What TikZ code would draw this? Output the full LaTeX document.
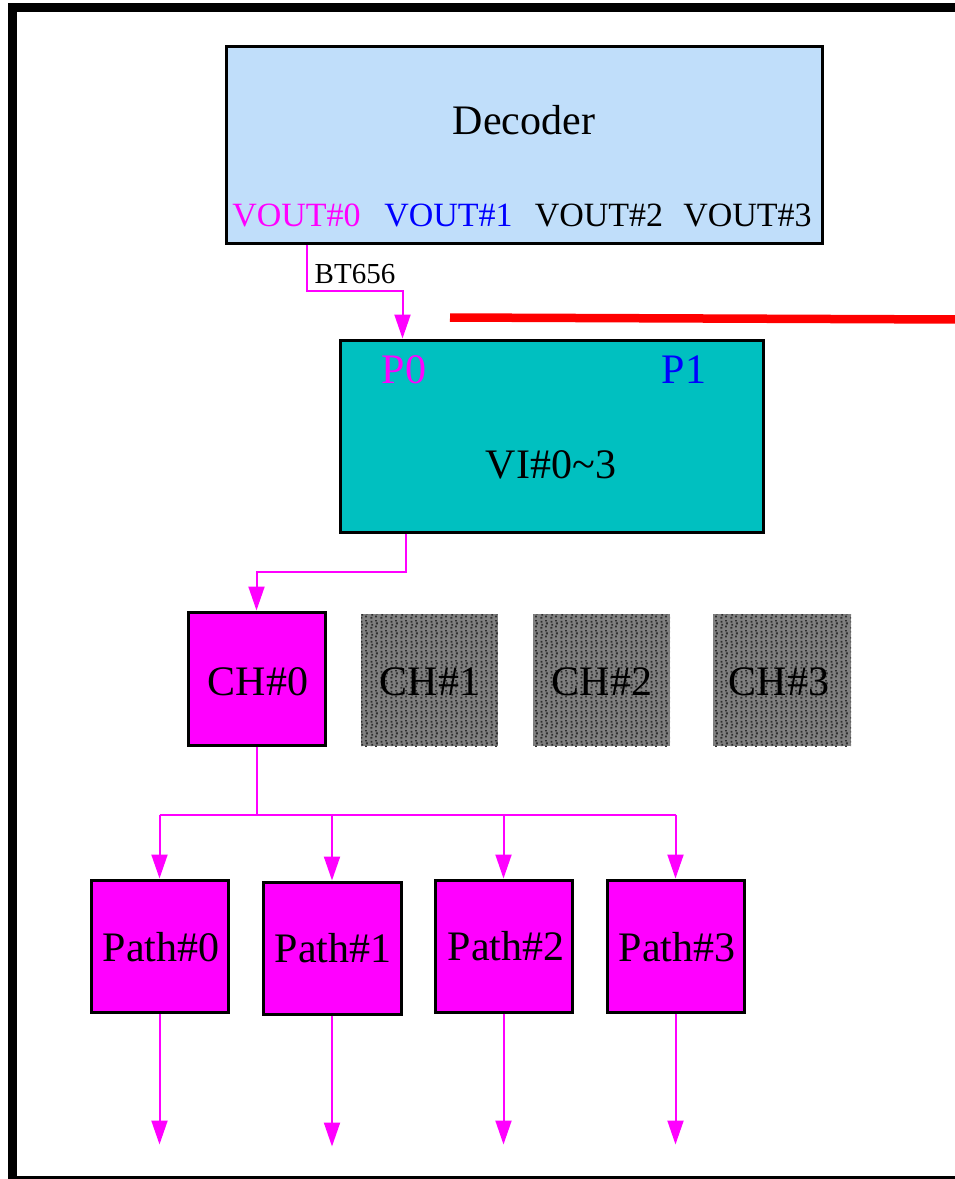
\documentclass[tikz,border=0pt]{standalone}
\usepackage{fontspec}
\setmainfont{Liberation Serif}
\usetikzlibrary{arrows.meta,calc,patterns}
\definecolor{decfill}{RGB}{192,222,250}
\definecolor{vifill}{RGB}{0,192,192}
\definecolor{mag}{RGB}{255,0,255}
\definecolor{blu}{RGB}{0,0,255}
\definecolor{chgray}{RGB}{128,128,128}
\definecolor{chdots}{RGB}{45,45,45}
% coarse speckle used on the idle channel boxes
\pgfdeclarepatternformonly{speckle}{\pgfpointorigin}{\pgfpoint{10pt}{10pt}}{\pgfpoint{10pt}{10pt}}{
  \pgfpathrectangle{\pgfpoint{0.5pt}{0.3pt}}{\pgfpoint{2pt}{2pt}}
  \pgfpathrectangle{\pgfpoint{1.4pt}{3.6pt}}{\pgfpoint{2pt}{2pt}}
  \pgfpathrectangle{\pgfpoint{0.6pt}{6.9pt}}{\pgfpoint{2pt}{2pt}}
  \pgfpathrectangle{\pgfpoint{5.5pt}{1.8pt}}{\pgfpoint{2pt}{2pt}}
  \pgfpathrectangle{\pgfpoint{6.5pt}{5.1pt}}{\pgfpoint{2pt}{2pt}}
  \pgfpathrectangle{\pgfpoint{5.6pt}{8.4pt}}{\pgfpoint{2pt}{1.4pt}}
  \pgfusepath{fill}
}
\tikzset{
  box/.style={draw=black, line width=3pt, inner sep=0pt},
  magbox/.style={box, fill=mag, minimum width=137pt, minimum height=132pt},
  idlebox/.style={fill=chgray, postaction={pattern=speckle, pattern color=chdots},
    inner sep=0pt, minimum width=137pt, minimum height=132pt},
  big/.style={inner sep=0pt, font=\fontsize{42pt}{48pt}\selectfont},
  mid/.style={inner sep=0pt, font=\fontsize{34pt}{40pt}\selectfont},
  small/.style={inner sep=0pt, font=\fontsize{29pt}{34pt}\selectfont},
  conn/.style={draw=mag, line width=2pt, -{Triangle[width=16pt,length=24pt]}},
  wire/.style={draw=mag, line width=2pt},
}
\begin{document}
\begin{tikzpicture}[x=1pt,y=-1pt]
\clip (0,0) rectangle (955,1179);
\fill[white] (0,0) rectangle (955,1179);

% outer frame
\draw[line width=9pt] (12.5,7.8) rectangle (985,1180.5);

% decoder
\node[box, fill=decfill, minimum width=596pt, minimum height=197pt] (dec) at (524,144.5) {};
\node[big] (dectxt) at (524,120) {Decoder};
\node[mid, text=mag] (v0) at (296.5,215) {VOUT\#0};
\node[mid, text=blu] (v1) at (448.5,215) {VOUT\#1};
\node[mid] (v2) at (599,215) {VOUT\#2};
\node[mid] (v3) at (747.5,215) {VOUT\#3};

% red marker line
\draw[red, line width=8.5pt] (450,317.5) -- (960,319.5);

% video input
\node[box, fill=vifill, minimum width=423pt, minimum height=192pt] (vi) at (551.5,436) {};
\node[big, text=mag] (p0) at (404,370) {P0};
\node[big, text=blu] (p1) at (684,370) {P1};
\node[big] (vitxt) at (551,465) {VI\#0\textasciitilde 3};

% channels
\node[magbox, minimum height=133pt] (ch0) at (256.5,678.5) {};
\node[big] at (258,682) {CH\#0};
\node[idlebox] (ch1) at (429.5,680) {};
\node[big] at (430,682) {CH\#1};
\node[idlebox] (ch2) at (601.5,680) {};
\node[big] at (602,682) {CH\#2};
\node[idlebox, minimum width=138pt] (ch3) at (782,680) {};
\node[big] at (779,682) {CH\#3};

% paths
\node[magbox] (pa0) at (159.5,946) {};
\node[big] at (161,947) {Path\#0};
\node[magbox, minimum width=138pt] (pa1) at (332,948) {};
\node[big] at (333,948) {Path\#1};
\node[magbox] (pa2) at (503.5,946) {};
\node[big] at (506,946) {Path\#2};
\node[magbox] (pa3) at (675.5,946) {};
\node[big] at (677,947) {Path\#3};

% connectors
\draw[conn] ([xshift=82pt]dec.south west) -- ++(0,46) coordinate (bend)
  -| ([xshift=64pt]vi.north west);
\node[small, anchor=south west] (bt) at ([xshift=8pt,yshift=7pt]bend) {BT656};
\draw[conn] ([xshift=67pt]vi.south west) -- ++(0,38) -| (ch0.north);
\draw[wire] (ch0.south) -- ++(0,68) coordinate (split);
\draw[wire] ($(split-|pa0.north)$) -- ($(split-|pa3.north)$);
\foreach \p in {pa0,pa1,pa2,pa3}{
  \draw[conn] (split-|\p.north) -- (\p.north);
  \coordinate (\p out) at ($(\p.south)+(0,131)$);
  \draw[conn] (\p.south) -- (\p out);
}
\end{tikzpicture}
\end{document}
